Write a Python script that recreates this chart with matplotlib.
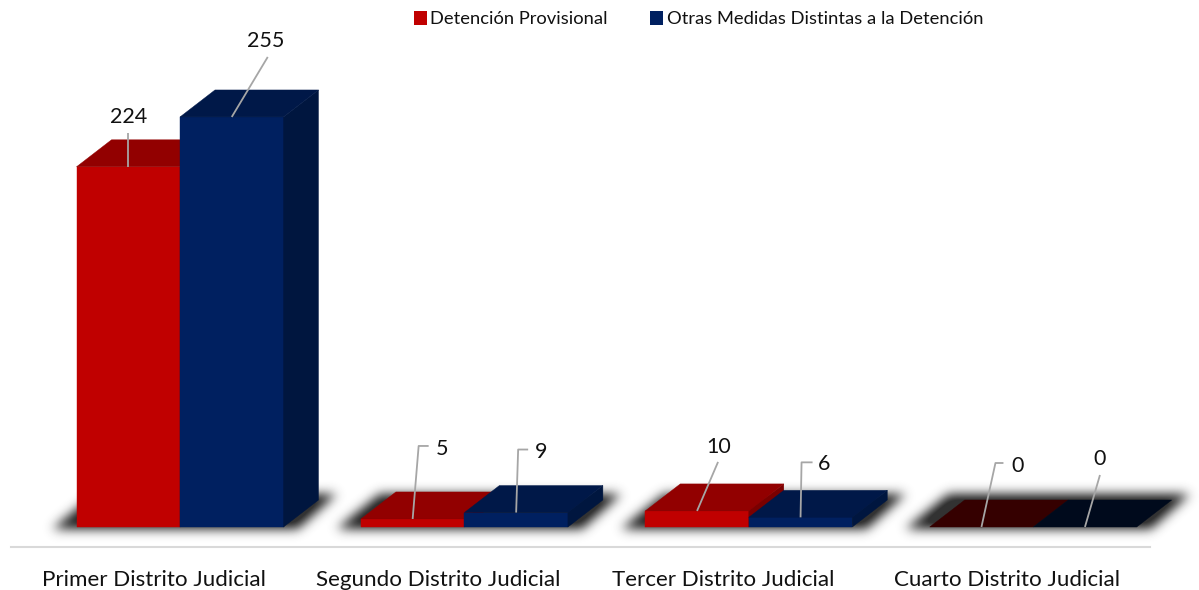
from __future__ import annotations

import matplotlib

matplotlib.use("Agg")
import matplotlib.pyplot as plt
import numpy as np
from matplotlib.patches import Patch, Polygon
from matplotlib.path import Path

plt.rcParams["font.family"] = ["Lato", "DejaVu Sans"]

districts = [
    "Primer Distrito Judicial",
    "Segundo Distrito Judicial",
    "Tercer Distrito Judicial",
    "Cuarto Distrito Judicial",
]
series_names = ["Detención Provisional", "Otras Medidas Distintas a la Detención"]
detencion = [224, 5, 10, 0]
otras = [255, 9, 6, 0]

# scales, measured on the picture
W, H = 1199, 590
PX_PER_CAT = 284.4
PX_PER_UNIT = 1.608
X0_PX = 180.0
Y0_PX = 527.0
BAR_W = 103.5 / PX_PER_CAT
DEPTH_X = 35.0 / PX_PER_CAT
DEPTH_Y = 27.0 / PX_PER_UNIT

FRONT = ["#C00000", "#002060"]
TOP = ["#920000", "#001848"]
SIDE = ["#7A0000", "#00163F"]
TOP_ZERO = ["#350000", "#000A1C"]
LEADER = "#A6A6A6"

# leader and text placement, pixel offsets from the middle of each bar's front top edge
label_layout = [
    [((0, 0), (0, -34)), (0, -50)],
    [((0, 0), (36, -60)), (34, -76)],
    [((0, 0), (6, -73), (16, -73)), (29, -70)],
    [((0, 0), (2, -63), (12, -63)), (25, -61)],
    [((0, 0), (21, -49)), (22, -64)],
    [((0, 0), (1, -55), (12, -55)), (24, -53)],
    [((0, 0), (14, -64), (22, -64)), (36, -61)],
    [((0, 0), (15, -52)), (15, -68)],
]


def draw_shadow(ax, n_groups):
    mask = np.zeros((H, W))
    yy, xx = np.mgrid[0:H, 0:W]
    pts = np.column_stack([xx.ravel() + 0.5, yy.ravel() + 0.5])
    for i in range(n_groups):
        left = X0_PX + i * PX_PER_CAT - BAR_W * PX_PER_CAT
        width = 2 * BAR_W * PX_PER_CAT
        dx, dy = DEPTH_X * PX_PER_CAT, DEPTH_Y * PX_PER_UNIT
        path = Path(
            [
                (left - 24, Y0_PX + 2),
                (left + dx - 16, Y0_PX - dy - 6),
                (left + width + dx + 18, Y0_PX - dy - 6),
                (left + width + 14, Y0_PX + 2),
            ]
        )
        mask[path.contains_points(pts).reshape(H, W)] = 1.0

    kernel = np.exp(-0.5 * (np.arange(-16, 17) / 5.5) ** 2)
    kernel /= kernel.sum()
    mask = np.apply_along_axis(lambda r: np.convolve(r, kernel, mode="same"), 1, mask)
    mask = np.apply_along_axis(lambda c: np.convolve(c, kernel, mode="same"), 0, mask)

    rgba = np.zeros((H, W, 4))
    rgba[..., :3] = 0.2
    rgba[..., 3] = np.clip(mask * 1.15, 0, 1)
    ax.imshow(rgba, extent=ax.get_xlim() + ax.get_ylim(), aspect="auto", zorder=1, origin="upper")


def draw_bar(ax, left, value, s, zorder):
    right = left + BAR_W
    top = value
    if value > 0:
        ax.add_patch(
            Polygon([(left, 0), (right, 0), (right, top), (left, top)], fc=FRONT[s], ec=FRONT[s], lw=0.3, zorder=zorder)
        )
        ax.add_patch(
            Polygon(
                [(right, 0), (right + DEPTH_X, DEPTH_Y), (right + DEPTH_X, top + DEPTH_Y), (right, top)],
                fc=SIDE[s],
                ec=SIDE[s],
                lw=0.3,
                zorder=zorder,
            )
        )
    top_color = TOP[s] if value > 0 else TOP_ZERO[s]
    ax.add_patch(
        Polygon(
            [(left, top), (left + DEPTH_X, top + DEPTH_Y), (right + DEPTH_X, top + DEPTH_Y), (right, top)],
            fc=top_color,
            ec=top_color,
            lw=0.3,
            zorder=zorder,
        )
    )


def main() -> None:
    fig = plt.figure(figsize=(W / 100, H / 100), dpi=100)
    ax = fig.add_axes([0, 0, 1, 1])
    ax.set_xlim(-X0_PX / PX_PER_CAT, (W - X0_PX) / PX_PER_CAT)
    ax.set_ylim(-(H - Y0_PX) / PX_PER_UNIT, Y0_PX / PX_PER_UNIT)
    ax.axis("off")

    draw_shadow(ax, len(districts))

    n = 0
    for i in range(len(districts)):
        for s, values in enumerate([detencion, otras]):
            left = i - BAR_W + s * BAR_W
            draw_bar(ax, left, values[i], s, zorder=2 + s + i)

            pts, text_off = label_layout[n]
            n += 1
            cx = left + BAR_W / 2
            lx = [cx + p[0] / PX_PER_CAT for p in pts]
            ly = [values[i] - p[1] / PX_PER_UNIT for p in pts]
            ax.plot(lx, ly, color=LEADER, lw=1.3, zorder=20, solid_capstyle="butt")
            ax.text(
                cx + text_off[0] / PX_PER_CAT,
                values[i] - text_off[1] / PX_PER_UNIT,
                str(values[i]),
                fontsize=15.5,
                ha="center",
                va="center",
                color="#111111",
                zorder=21,
            )

    # axis line and category labels
    ax.plot(
        [(11 - X0_PX) / PX_PER_CAT, (1150 - X0_PX) / PX_PER_CAT],
        [-20 / PX_PER_UNIT, -20 / PX_PER_UNIT],
        color="#D9D9D9",
        lw=1.5,
        zorder=2,
    )
    for i, name in enumerate(districts):
        ax.text(i - 26 / PX_PER_CAT, -53 / PX_PER_UNIT, name, fontsize=16.1, ha="center", va="center", color="#111111")

    handles = [Patch(fc=FRONT[0], ec="none"), Patch(fc=FRONT[1], ec="none")]
    ax.legend(
        handles,
        series_names,
        ncol=2,
        frameon=False,
        loc="center",
        bbox_to_anchor=(698.5 / W, 1 - 19 / H),
        fontsize=13.2,
        handlelength=0.7,
        handleheight=0.85,
        handletextpad=0.2,
        columnspacing=2.3,
        labelcolor="#111111",
    )

    fig.savefig("out.png", dpi=100)
    plt.close(fig)


if __name__ == "__main__":
    main()
